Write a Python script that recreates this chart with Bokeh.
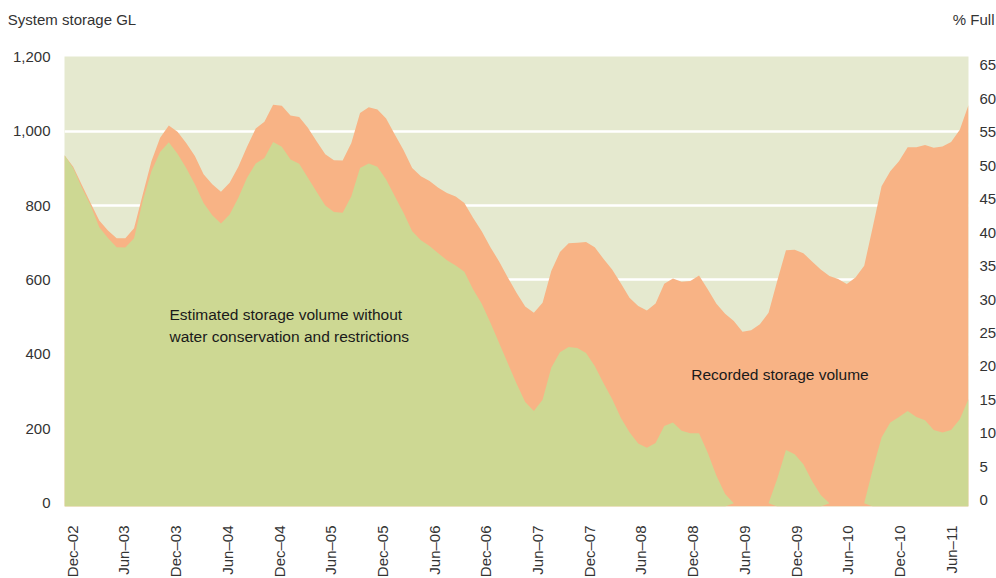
import numpy as np
from bokeh.plotting import figure
from bokeh.models import Range1d, LinearAxis, FixedTicker, NumeralTickFormatter, Label
from bokeh.embed import file_html
from bokeh.resources import INLINE

# ---------------- data (GL) ----------------
recorded_gl = [
    935, 904, 855, 807, 760, 733, 712, 712, 739, 830,
    919, 982, 1015, 998, 968, 933, 884, 857, 837, 861,
    904, 958, 1007, 1025, 1071, 1068, 1042, 1038, 1009, 973,
    938, 922, 921, 968, 1049, 1064, 1058, 1034, 991, 949,
    901, 879, 866, 848, 834, 824, 807, 767, 731, 688,
    650, 607, 566, 529, 512, 539, 624, 675, 699, 700,
    702, 688, 657, 628, 591, 552, 530, 518, 537, 590,
    604, 595, 597, 612, 575, 536, 509, 490, 461, 465,
    481, 512, 598, 680, 681, 672, 650, 628, 611, 603,
    589, 607, 638, 744, 852, 892, 919, 957, 957, 963,
    955, 959, 971, 1004, 1070,
]
estimated_gl = [
    935, 901, 848, 801, 742, 713, 688, 687, 712, 812,
    892, 944, 970, 939, 901, 857, 807, 774, 752, 776,
    821, 875, 913, 928, 971, 958, 924, 912, 875, 837,
    800, 783, 781, 825, 901, 913, 904, 870, 825, 781,
    731, 707, 691, 672, 653, 639, 622, 575, 536, 485,
    431, 376, 322, 272, 248, 278, 364, 406, 420, 417,
    404, 369, 323, 280, 230, 191, 161, 149, 162, 208,
    217, 195, 188, 188, 136, 74, 25, 0, 0, 0,
    0, 0, 66, 143, 132, 105, 60, 22, 0, 0,
    0, 0, 0, 93, 177, 217, 232, 248, 232, 223,
    197, 190, 197, 226, 280,
]
tick_labels = ["Dec–02", "Jun–03", "Dec–03", "Jun–04", "Dec–04", "Jun–05",
               "Dec–05", "Jun–06", "Dec–06", "Jun–07", "Dec–07", "Jun–08",
               "Dec–08", "Jun–09", "Dec–09", "Jun–10", "Dec–10", "Jun–11"]
tick_months = [6 * i for i in range(len(tick_labels))]   # months after Dec-02
gl_ticks = [0, 200, 400, 600, 800, 1000, 1200]
grid_ticks = [200, 400, 600, 800, 1000]
pct_ticks = list(range(0, 70, 5))

# ---------------- styling ----------------
FONT = "Liberation Sans"
BG = "#e5e9cf"
GREEN = "#cdd893"
ORANGE = "#f8b385"
TICK_COLOR = "#333333"
TEXT_COLOR = "#1a1a1a"
FS = "15px"
FS_NOTE = "15.5px"
HEADER_H = 40
PAGE_W = 996

# ---------------- header strip with the two axis titles ----------------
head = figure(width=PAGE_W, height=HEADER_H, x_range=Range1d(0, PAGE_W), y_range=Range1d(0, HEADER_H),
              x_axis_location=None, y_axis_location=None,
              output_backend="svg", toolbar_location=None,
              min_border=0, min_border_left=0, min_border_right=0,
              min_border_top=0, min_border_bottom=0,
              outline_line_color=None, background_fill_color="white",
              border_fill_color="white")
head.grid.visible = False
head.add_layout(Label(x=7.3, y=HEADER_H - 18.8, text="System storage GL", text_font=FONT,
                      text_font_size=FS, text_color=TICK_COLOR, text_align="left",
                      text_baseline="middle"))
head.add_layout(Label(x=994, y=HEADER_H - 18.8, text="% Full", text_font=FONT,
                      text_font_size=FS, text_color=TICK_COLOR, text_align="right",
                      text_baseline="middle"))

# ---------------- main chart ----------------
x = np.arange(len(recorded_gl))
rec = np.array(recorded_gl, dtype=float)
est = np.array(estimated_gl, dtype=float)

p = figure(frame_width=904, frame_height=450,
           x_range=Range1d(0, len(x) - 1), y_range=Range1d(-8.6, 1200.5),
           x_axis_location=None, y_axis_location="left",
           output_backend="svg", toolbar_location=None,
           min_border_left=64, min_border_top=56 - HEADER_H,
           min_border_right=0, min_border_bottom=0,
           background_fill_color=BG, border_fill_color="white", outline_line_color=None)

p.extra_x_ranges = {"months": Range1d(-0.89, 104.0)}
p.extra_y_ranges = {"pct": Range1d(-0.93, 66.32)}

base = p.y_range.start
p.varea(x=x, y1=np.full(len(x), base), y2=rec, fill_color=ORANGE)
green_base = np.where(est > 0, base, est)
p.varea(x=x, y1=green_base, y2=est, fill_color=GREEN)

# grid
p.ygrid.ticker = FixedTicker(ticks=grid_ticks)
p.ygrid.grid_line_color = "white"
p.ygrid.grid_line_width = 2.5
p.xgrid.visible = False

common = dict(axis_line_color=None, major_tick_line_color=None, minor_tick_line_color=None,
              major_tick_out=0, major_tick_in=0, minor_tick_out=0, minor_tick_in=0,
              major_label_text_font=FONT, major_label_text_font_size=FS,
              major_label_text_color=TICK_COLOR)

# left axis
ya = p.yaxis[0]
ya.ticker = FixedTicker(ticks=gl_ticks)
ya.formatter = NumeralTickFormatter(format="0,0")
ya.major_label_standoff = 14
for k, v in common.items():
    setattr(ya, k, v)

# right axis
ra = LinearAxis(y_range_name="pct", ticker=FixedTicker(ticks=pct_ticks),
                major_label_standoff=11, **common)
p.add_layout(ra, "right")

# bottom axis
xa = LinearAxis(x_range_name="months", ticker=FixedTicker(ticks=tick_months),
                major_label_overrides={m: lab for m, lab in zip(tick_months, tick_labels)},
                major_label_orientation=np.pi / 2, major_label_standoff=19, **common)
p.add_layout(xa, "below")

# in-chart notes
def note(text, xx, yy):
    p.add_layout(Label(x=xx, y=yy, text=text, text_font=FONT, text_font_size=FS_NOTE,
                       text_color=TEXT_COLOR, text_align="left", text_baseline="middle"))

note("Estimated storage volume without", 12.08, 506)
note("water conservation and restrictions", 12.08, 447)
note("Recorded storage volume", 72.1, 346)

# two independent roots, stacked: header strip then chart
open("out.html", "w").write(file_html([head, p], INLINE))
